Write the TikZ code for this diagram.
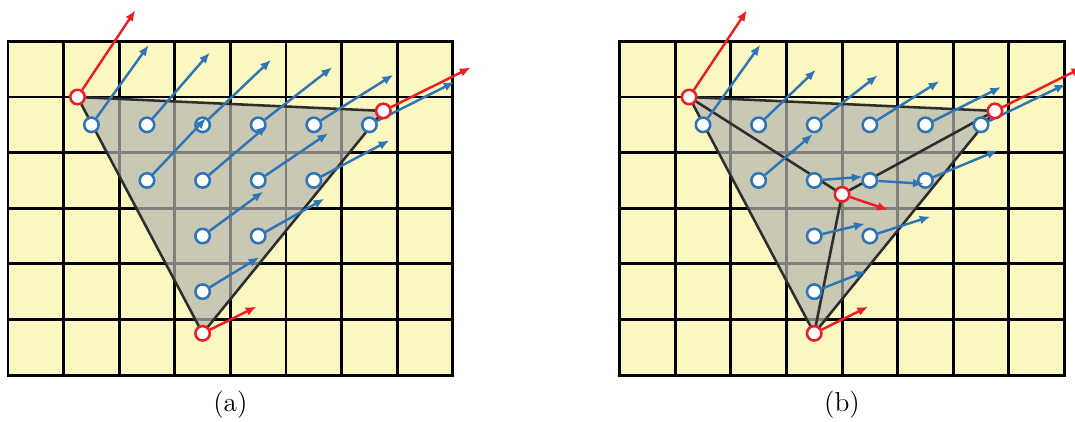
\documentclass[tikz,border=0pt]{standalone}
\usepackage{tikz}
\usetikzlibrary{arrows.meta,calc}
\definecolor{mgyellow}{HTML}{FAF7C0}
\definecolor{mggray}{HTML}{B5B5B0}
\definecolor{mgedge}{HTML}{2D2D2D}
\definecolor{mgblue}{HTML}{2E75B6}
\definecolor{mgred}{HTML}{EE1C25}

\begin{document}
\begin{tikzpicture}[
  cellline/.style={line width=1.5pt,color=black},
  meshfill/.style={fill=mggray,fill opacity=0.7},
  meshedge/.style={draw=mgedge,line width=1.3pt,line join=round},
  sample/.style={circle,draw=mgblue,fill=white,line width=1.3pt,
                 minimum size=7.4pt,inner sep=0pt},
  vertex/.style={sample,draw=mgred},
  vel/.style={-{Latex[length=5.5pt,width=4.5pt]},color=mgblue,line width=1.25pt},
  vvel/.style={vel,color=mgred},
  caption/.style={font=\fontsize{14}{16}\selectfont}
]
\useasboundingbox (-0.144,-0.828) rectangle (19.19,6.745);

% (a) one triangle
\fill[mgyellow] (0,0) rectangle (8,6);
\draw[cellline] (0,0) grid (8,6);
\draw[cellline] (0,0) rectangle (8,6);
\coordinate (a1) at (1.25,5.0);
\coordinate (b1) at (6.75,4.75);
\coordinate (c1) at (3.5,0.75);
\fill[meshfill] (a1) -- (b1) -- (c1) -- cycle;
\draw[meshedge] (a1) -- (b1) -- (c1) -- cycle;
\foreach \k/\x/\y/\u/\v in {
  1/1.5/4.5/1.03/1.435, 2/2.5/4.5/1.13/1.30, 3/3.5/4.5/1.23/1.17,
  4/4.5/4.5/1.33/1.035, 5/5.5/4.5/1.43/0.90, 6/6.5/4.5/1.53/0.77,
  7/2.5/3.5/1.06/1.12, 8/3.5/3.5/1.16/0.985, 9/4.5/3.5/1.26/0.85,
  10/5.5/3.5/1.36/0.72, 11/3.5/2.5/1.09/0.80, 12/4.5/2.5/1.19/0.67,
  13/3.5/1.5/1.02/0.62} {
  \node[sample] (sa\k) at (\x,\y) {};
  \coordinate (ta\k) at (\x+\u,\y+\v);
}
\foreach \k in {1,...,13} \draw[vel] (sa\k) -- (ta\k);
\foreach \n/\u/\v in {a1/1.04/1.56,b1/1.57/0.78,c1/0.97/0.48} {
  \node[vertex] (v\n) at (\n) {};
  \coordinate (w\n) at ($(\n)+(\u,\v)$);
  \draw[vvel] (v\n) -- (w\n);
}
\node[caption] (capa) at (4,-0.54) {(a)};

% (b) split at an inner vertex
\begin{scope}[xshift=11cm]
\fill[mgyellow] (0,0) rectangle (8,6);
\draw[cellline] (0,0) grid (8,6);
\draw[cellline] (0,0) rectangle (8,6);
\coordinate (a2) at (1.25,5.0);
\coordinate (b2) at (6.75,4.75);
\coordinate (c2) at (3.5,0.75);
\coordinate (d2) at (4.0,3.25);
\fill[meshfill] (a2) -- (b2) -- (c2) -- cycle;
\draw[meshedge] (a2) -- (b2) -- (c2) -- cycle;
\draw[meshedge] (a2) -- (d2) -- (b2) (d2) -- (c2);
\foreach \k/\x/\y/\u/\v in {
  1/1.5/4.5/1.03/1.44, 2/2.5/4.5/1.03/0.99, 3/3.5/4.5/1.14/0.89,
  4/4.5/4.5/1.25/0.785, 5/5.5/4.5/1.36/0.68, 6/6.5/4.5/1.52/0.73,
  7/2.5/3.5/0.97/0.83, 8/3.5/3.5/0.87/0.065, 9/4.5/3.5/0.97/-0.06,
  10/5.5/3.5/1.30/0.54, 11/3.5/2.5/0.91/0.22, 12/4.5/2.5/1.09/0.35,
  13/3.5/1.5/0.94/0.37} {
  \node[sample] (sb\k) at (\x,\y) {};
  \coordinate (tb\k) at (\x+\u,\y+\v);
}
\foreach \k in {1,...,13} \draw[vel] (sb\k) -- (tb\k);
\foreach \n/\u/\v in {a2/1.04/1.56,b2/1.57/0.78,c2/0.97/0.48,d2/0.83/-0.28} {
  \node[vertex] (v\n) at (\n) {};
  \coordinate (w\n) at ($(\n)+(\u,\v)$);
  \draw[vvel] (v\n) -- (w\n);
}
\node[caption] (capb) at (4,-0.54) {(b)};
\end{scope}
\end{tikzpicture}
\end{document}
